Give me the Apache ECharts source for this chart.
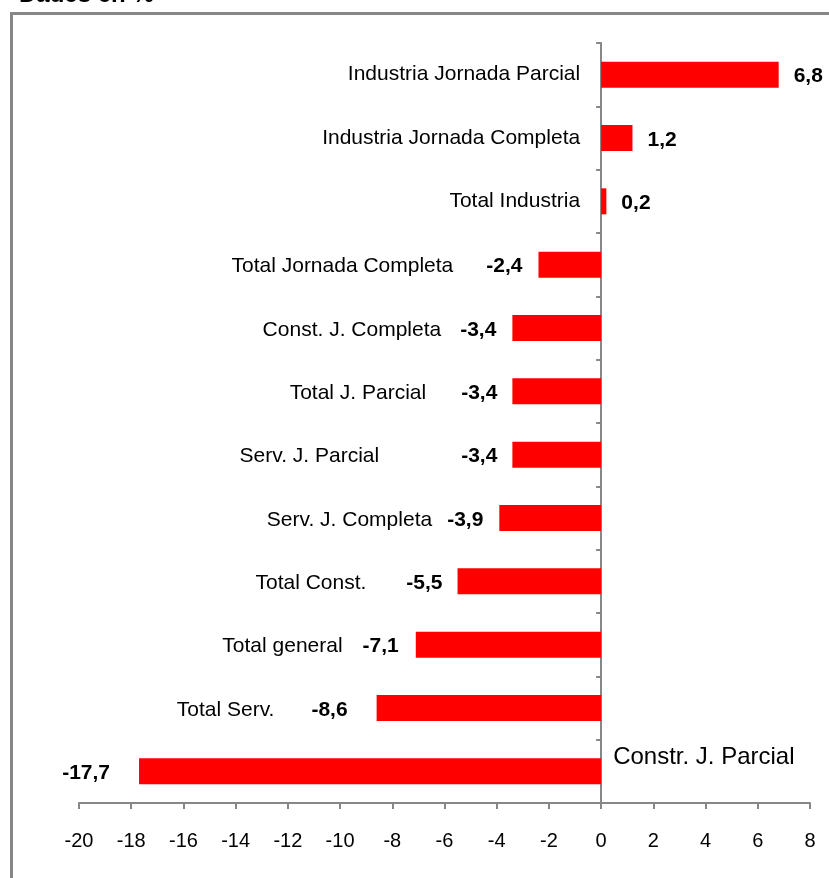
<!DOCTYPE html>
<html>
<head>
<meta charset="utf-8">
<style>
  html, body { margin: 0; padding: 0; background: #fff; overflow: hidden; }
  #chart { width: 829px; height: 878px; }
</style>
<script src="https://cdn.jsdelivr.net/npm/echarts@6/dist/echarts.min.js"></script>
</head>
<body>
<div id="chart"></div>
<script>
// ---- data ----
const titleText = 'Dades en %';
const categories = [
  'Industria Jornada Parcial',
  'Industria Jornada Completa',
  'Total Industria',
  'Total Jornada Completa',
  'Const. J. Completa',
  'Total J. Parcial',
  'Serv. J. Parcial',
  'Serv. J. Completa',
  'Total Const.',
  'Total general',
  'Total Serv.',
  'Constr. J. Parcial'
];
const values = [6.8, 1.2, 0.2, -2.4, -3.4, -3.4, -3.4, -3.9, -5.5, -7.1, -8.6, -17.7];
const xMin = -20, xMax = 8, xStep = 2;

// ---- layout / style tweaks (label spacing as in the original) ----
const valueLabelGap = [15, 15, 15, 16, 16, 15, 15, 16, 15, 17, 29, 29];
const nameLabelGap  = [0, 0, 0, 33, 19, 35, 82, 15, 40, 20, 37, 0];
const namesRightOfAxis = ['Constr. J. Parcial'];
const GRID = { left: 79, right: 19, top: 43, bottom: 75 };
const NAME_GAP_LEFT = 21;   // gap between axis line and names left of it
const NAME_GAP_RIGHT = 12;  // gap between axis line and names right of it

const FONT = "'Liberation Sans', Arial, Helvetica, sans-serif";
const GREY = '#878787';
const fmt = v => String(v).replace('.', ',');

const barData = values.map((v, i) => {
  const name = categories[i];
  const item = { value: v };
  if (v >= 0) {
    item.label = { position: 'right', distance: valueLabelGap[i], formatter: fmt(v) };
  } else if (namesRightOfAxis.indexOf(name) >= 0) {
    item.label = { position: 'left', distance: valueLabelGap[i], formatter: fmt(v) };
  } else {
    item.label = {
      position: 'left',
      distance: valueLabelGap[i],
      formatter: '{n|' + name + '}{v|' + fmt(v) + '}',
      rich: {
        n: { fontSize: 21, fontWeight: 'normal', color: '#000', fontFamily: FONT, padding: [0, nameLabelGap[i], 0, 0] },
        v: { fontSize: 21, fontWeight: 'bold', color: '#000', fontFamily: FONT }
      }
    };
  }
  return item;
});

const chart = echarts.init(document.getElementById('chart'), null, { renderer: 'canvas' });
chart.setOption({
  animation: false,
  backgroundColor: '#ffffff',
  title: {
    text: titleText,
    left: 14,
    top: -22,
    textStyle: { fontSize: 24, fontWeight: 'bold', color: '#000', fontFamily: FONT }
  },
  graphic: [{
    type: 'rect',
    z: -10,
    silent: true,
    shape: { x: 11.5, y: 13.5, width: 1000, height: 1000 },
    style: { fill: 'none', stroke: GREY, lineWidth: 3 }
  }],
  grid: { left: GRID.left, right: GRID.right, top: GRID.top, bottom: GRID.bottom, containLabel: false, outerBoundsMode: 'none' },
  xAxis: {
    type: 'value',
    min: xMin, max: xMax, interval: xStep,
    splitLine: { show: false },
    axisLine: { show: true, lineStyle: { color: GREY, width: 2 } },
    axisTick: { show: true, length: 6, lineStyle: { color: GREY, width: 2 } },
    axisLabel: { margin: 28, fontSize: 20, color: '#000', fontFamily: FONT }
  },
  yAxis: [{
    type: 'category',
    data: categories,
    inverse: true,
    axisLine: { show: true, onZero: true, lineStyle: { color: GREY, width: 2 } },
    axisTick: { show: true, length: 5, lineStyle: { color: GREY, width: 2 } },
    axisLabel: {
      margin: NAME_GAP_LEFT, fontSize: 21, color: '#000', fontFamily: FONT,
      padding: [8, 0, 0, 0],
      formatter: (v, i) => values[i] >= 0 ? v : ''
    }
  }, {
    type: 'category',
    data: categories,
    inverse: true,
    position: 'right',
    axisLine: { show: false, onZero: false },
    axisTick: { show: false },
    axisLabel: {
      margin: NAME_GAP_RIGHT, fontSize: 24, color: '#000', fontFamily: FONT,
      verticalAlign: 'bottom', lineHeight: 27,
      formatter: v => namesRightOfAxis.indexOf(v) >= 0 ? v : ''
    }
  }],
  series: [{
    type: 'bar',
    yAxisIndex: 0,
    data: barData,
    barWidth: 26,
    itemStyle: { color: '#ff0000' },
    label: { show: true, fontSize: 21, fontWeight: 'bold', color: '#000', fontFamily: FONT, offset: [0, 2] }
  }]
});

// Place the category names next to the zero line (the axis line sits on x = 0).
const zeroX = chart.convertToPixel({ xAxisIndex: 0 }, 0);
const gridLeftPx = GRID.left;
const gridRightPx = chart.getWidth() - GRID.right;
chart.setOption({
  yAxis: [
    { axisLabel: { margin: gridLeftPx - (zeroX - NAME_GAP_LEFT) } },
    { axisLabel: { margin: (zeroX + NAME_GAP_RIGHT) - gridRightPx } }
  ]
});
</script>
</body>
</html>
